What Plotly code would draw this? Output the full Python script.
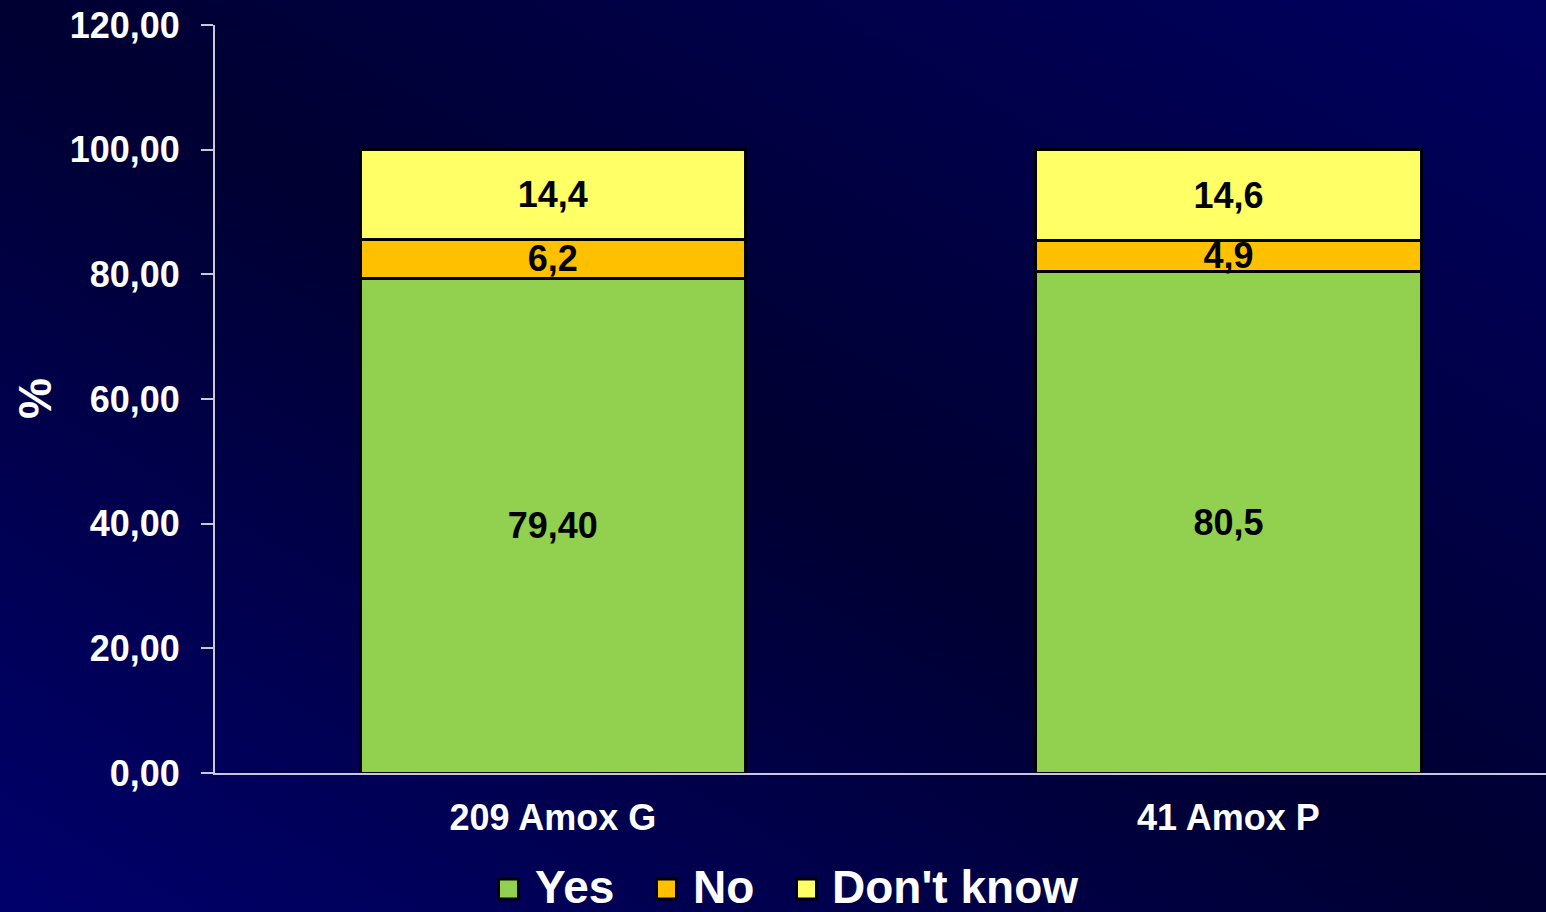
import base64
import plotly.graph_objects as go

# --- data -----------------------------------------------------------------
categories = ["209 Amox G", "41 Amox P"]
series_names = ["Yes", "No", "Don't know"]
yes_values = [79.40, 80.5]
no_values = [6.2, 4.9]
dontknow_values = [14.4, 14.6]
# decimals shown in each value label
yes_decimals = [2, 1]
no_decimals = [1, 1]
dontknow_decimals = [1, 1]
y_ticks = [0, 20, 40, 60, 80, 100, 120]

# --- style ------------------------------------------------------------------
W, H = 1546, 912
M_L, M_R, M_T, M_B = 215, 0, 25, 139
FONT = "Liberation Sans, Arial, sans-serif"
colors = ["#92D050", "#FFC000", "#FFFF66"]
axis_color = "#C8C8D8"

# legend layout (pixel positions along the bottom strip)
legend_swatch_left = [497, 655, 795]
legend_text_left = [533, 691, 830]
legend_mid_y = 889
swatch_size = 20

pw = W - M_L - M_R
ph = H - M_T - M_B


def px_x(px):
    return (px - M_L) / pw


def px_y(py):
    return (H - M_B - py) / ph


def fmt(v, d):
    return f"{v:.{d}f}".replace(".", ",")


fig = go.Figure()

series = [
    (series_names[0], yes_values, yes_decimals, colors[0]),
    (series_names[1], no_values, no_decimals, colors[1]),
    (series_names[2], dontknow_values, dontknow_decimals, colors[2]),
]

for name, vals, decs, col in series:
    fig.add_trace(go.Bar(
        x=categories,
        y=vals,
        name=name,
        width=0.57,
        marker=dict(color=col, line=dict(color="#000000", width=3)),
        text=[fmt(v, d) for v, d in zip(vals, decs)],
        textposition="inside",
        insidetextanchor="middle",
        textangle=0,
        constraintext="none",
        textfont=dict(family=FONT, size=36, color="#000000", weight="bold"),
        showlegend=False,
        hoverinfo="skip",
    ))

# legend drawn as swatches + labels
for (name, _, _, col), sx, tx in zip(series, legend_swatch_left, legend_text_left):
    half = swatch_size / 2
    cx = sx + 1.5 + half
    fig.add_shape(
        type="rect",
        xref="paper", yref="paper",
        x0=px_x(cx - half), x1=px_x(cx + half),
        y0=px_y(legend_mid_y + half), y1=px_y(legend_mid_y - half),
        fillcolor=col,
        line=dict(color="#000000", width=3),
        layer="above",
    )
    fig.add_annotation(
        text=name,
        xref="paper", yref="paper",
        x=px_x(tx), y=px_y(legend_mid_y - 2),
        xanchor="left", yanchor="middle",
        showarrow=False,
        font=dict(family=FONT, size=46, color="#FFFFFF", weight="bold"),
    )

# diagonal navy gradient behind everything
svg = f"""<svg xmlns='http://www.w3.org/2000/svg' width='{W}' height='{H}' preserveAspectRatio='none' viewBox='0 0 {W} {H}'>
<defs><linearGradient id='g' x1='0' y1='1' x2='1' y2='0'>
<stop offset='0' stop-color='#00006C'/>
<stop offset='0.5' stop-color='#000032'/>
<stop offset='1' stop-color='#000060'/>
</linearGradient></defs>
<rect width='{W}' height='{H}' fill='url(#g)'/></svg>"""
bg_src = "data:image/svg+xml;base64," + base64.b64encode(svg.encode()).decode()

fig.add_layout_image(dict(
    source=bg_src,
    xref="paper", yref="paper",
    x=-M_L / pw, y=1 + M_T / ph,
    sizex=W / pw, sizey=H / ph,
    xanchor="left", yanchor="top",
    sizing="stretch",
    layer="below",
))

fig.add_annotation(
    text="%",
    xref="paper", yref="paper",
    x=px_x(35), y=0.5,
    xanchor="center", yanchor="middle",
    showarrow=False,
    textangle=-90,
    font=dict(family=FONT, size=46, color="#FFFFFF", weight="bold"),
)

fig.update_layout(
    width=W, height=H,
    margin=dict(l=M_L, r=M_R, t=M_T, b=M_B),
    barmode="stack",
    separators=",.",
    paper_bgcolor="rgba(0,0,0,0)",
    plot_bgcolor="rgba(0,0,0,0)",
    font=dict(family=FONT, color="#FFFFFF"),
    showlegend=False,
    xaxis=dict(
        range=[-0.5, 1.47],
        showline=True, linecolor=axis_color, linewidth=2,
        ticks="", showgrid=False, zeroline=False,
        tickfont=dict(family=FONT, size=36, color="#FFFFFF", weight="bold"),
        ticklabelstandoff=12,
        fixedrange=True,
    ),
    yaxis=dict(
        range=[0, 120],
        tickvals=y_ticks,
        tickformat=".2f",
        showline=True, linecolor=axis_color, linewidth=2,
        ticks="outside", ticklen=12, tickwidth=2, tickcolor=axis_color,
        showgrid=False, zeroline=False,
        tickfont=dict(family=FONT, size=36, color="#FFFFFF", weight="bold"),
        ticklabelstandoff=14,
        fixedrange=True,
    ),
)

fig.write_html("out.html", config={"displayModeBar": False})
